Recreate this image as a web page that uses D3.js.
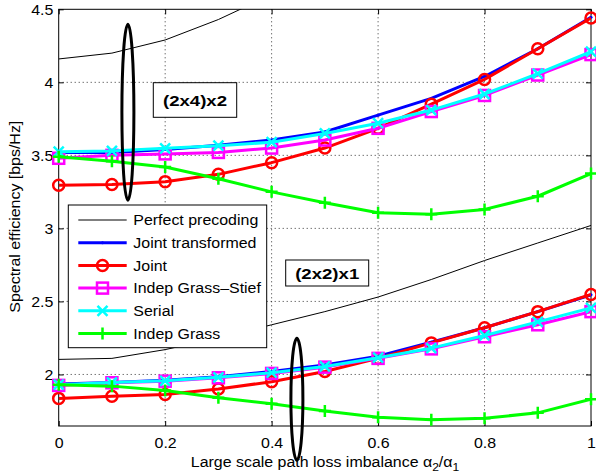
<!DOCTYPE html>
<html><head><meta charset="utf-8">
<script src="https://cdn.jsdelivr.net/npm/d3@7"></script>
<style>body{margin:0;background:#fff}svg{display:block}text{font-family:"Liberation Sans",Arial,Helvetica,sans-serif}</style>
</head><body><svg id="c" width="596" height="476"></svg>
<script>
const xs = [0,0.1,0.2,0.3,0.4,0.5,0.6,0.7,0.8,0.9,1];
const xTicks = [0,0.2,0.4,0.6,0.8,1];
const yTicks = [2,2.5,3,3.5,4,4.5];
// (2x4)x2
const perfA   = [4.16,4.20,4.29,4.43,4.60,4.80,5.02,5.26,5.52,5.80,6.10];
const jtA     = [3.52,3.52,3.54,3.57,3.605,3.66,3.775,3.89,4.04,4.23,4.445];
const jointA  = [3.295,3.30,3.32,3.37,3.45,3.55,3.685,3.85,4.02,4.23,4.44];
const igsA    = [3.48,3.50,3.51,3.52,3.55,3.605,3.685,3.80,3.91,4.05,4.19];
const serialA = [3.525,3.53,3.548,3.566,3.59,3.65,3.72,3.81,3.92,4.06,4.21];
const igA     = [3.49,3.46,3.42,3.34,3.25,3.175,3.107,3.096,3.13,3.22,3.375];
// (2x2)x1
const perfB   = [2.103,2.11,2.17,2.25,2.34,2.43,2.53,2.65,2.78,2.90,3.02];
const jtB     = [1.935,1.945,1.96,1.985,2.02,2.065,2.125,2.22,2.32,2.43,2.545];
const jointB  = [1.836,1.85,1.863,1.90,1.95,2.02,2.11,2.216,2.32,2.43,2.548];
const igsB    = [1.925,1.943,1.954,1.977,2.007,2.05,2.11,2.175,2.258,2.34,2.43];
const serialB = [1.93,1.945,1.956,1.98,2.012,2.055,2.115,2.18,2.267,2.36,2.456];
const igB     = [1.93,1.92,1.89,1.84,1.80,1.75,1.707,1.69,1.70,1.737,1.83];
const names = ["Perfect precoding","Joint transformed","Joint","Indep Grass\u2013Stief","Serial","Indep Grass"];

const FS = 14.5, SX = 1.1;
const svg = d3.select("#c");
const L=58.7, R=591, T=9.3, B=426;
const x = d3.scaleLinear().domain([0,1]).range([L,R]);
const y = d3.scaleLinear().domain([1.647,4.5]).range([B,T]);

function stext(parent, px, py, str, opt={}){
  const g = parent.append("g").attr("transform",`translate(${px},${py}) scale(${opt.sx||SX},1)`);
  return g.append("text").attr("x",0).attr("y",0).attr("font-size",opt.size||FS)
    .attr("font-weight",opt.weight||"normal").attr("text-anchor",opt.anchor||"start").attr("fill","#000").text(str);
}

svg.append("defs").append("clipPath").attr("id","clip").append("rect")
  .attr("x",L).attr("y",T).attr("width",R-L).attr("height",B-T);

// grid
const g = svg.append("g");
xTicks.forEach(t=>{ if(t>0 && t<1) g.append("line").attr("x1",x(t)).attr("x2",x(t)).attr("y1",T).attr("y2",B)
  .attr("stroke","#000").attr("stroke-width",0.8).attr("stroke-dasharray","1,3");});
yTicks.forEach(t=>{ if(t<4.5) g.append("line").attr("y1",y(t)).attr("y2",y(t)).attr("x1",L).attr("x2",R)
  .attr("stroke","#000").attr("stroke-width",0.8).attr("stroke-dasharray","1,3");});

// axes
const fmt = d=>d3.format("")(d);
const ax = svg.append("g").attr("transform",`translate(0,${B})`)
  .call(d3.axisBottom(x).tickValues(xTicks).tickSize(-5).tickFormat(fmt));
const axT = svg.append("g").attr("transform",`translate(0,${T})`)
  .call(d3.axisTop(x).tickValues(xTicks).tickSize(-5).tickFormat(""));
const ay = svg.append("g").attr("transform",`translate(${L},0)`)
  .call(d3.axisLeft(y).tickValues(yTicks).tickSize(-5).tickFormat(fmt));
const ayR = svg.append("g").attr("transform",`translate(${R},0)`)
  .call(d3.axisRight(y).tickValues(yTicks).tickSize(-5).tickFormat(""));
[ax,axT,ay,ayR].forEach(a=>{a.select(".domain").remove();a.selectAll("line").attr("stroke","#000");
  a.selectAll("text").attr("font-size",FS).attr("fill","#000").style("font-family","Liberation Sans, Arial, sans-serif");});
ax.selectAll("text").attr("y",22.3).attr("dy",0).attr("transform",`scale(${SX},1)`);
ay.selectAll("text").attr("x",-5.4/SX).attr("dy",0).attr("y",5.2).attr("transform",`scale(${SX},1)`);
svg.append("rect").attr("x",L).attr("y",T).attr("width",R-L).attr("height",B-T)
  .attr("fill","none").attr("stroke","#000").attr("stroke-width",1);

// series
const line = d3.line().x((d,i)=>x(xs[i])).y(d=>y(d));
const styles = [
  {c:"#000",w:1,m:"none"},
  {c:"#0000ff",w:3,m:"dot"},
  {c:"#ff0000",w:3,m:"circle"},
  {c:"#ff00ff",w:3,m:"square"},
  {c:"#00ffff",w:3,m:"x"},
  {c:"#00ff00",w:3,m:"plus"}
];
function marker(sel, m, c, cx, cy){
  if(m==="dot") sel.append("circle").attr("cx",cx).attr("cy",cy).attr("r",1.5).attr("fill",c);
  else if(m==="circle") sel.append("circle").attr("cx",cx).attr("cy",cy).attr("r",5.5).attr("fill","none").attr("stroke",c).attr("stroke-width",2.5);
  else if(m==="square") sel.append("rect").attr("x",cx-5.5).attr("y",cy-5.5).attr("width",11).attr("height",11).attr("fill","none").attr("stroke",c).attr("stroke-width",2.5);
  else if(m==="x") sel.append("path").attr("d",`M${cx-5},${cy-5}L${cx+5},${cy+5}M${cx-5},${cy+5}L${cx+5},${cy-5}`).attr("stroke",c).attr("stroke-width",2.5);
  else if(m==="plus") sel.append("path").attr("d",`M${cx-6},${cy}L${cx+6},${cy}M${cx},${cy-6}L${cx},${cy+6}`).attr("stroke",c).attr("stroke-width",2.5);
}
const groups = [[perfA,jtA,jointA,igsA,serialA,igA],[perfB,jtB,jointB,igsB,serialB,igB]];
const sg = svg.append("g");
groups.forEach(grp=>{
  grp.forEach((data,k)=>{
    const s = styles[k];
    sg.append("path").attr("d",line(data)).attr("fill","none").attr("stroke",s.c)
      .attr("stroke-width",s.w).attr("clip-path","url(#clip)").attr("stroke-linejoin","round");
    if(s.m!=="none") data.forEach((d,i)=>marker(sg,s.m,s.c,x(xs[i]),y(d)));
  });
});

// ellipses
svg.append("ellipse").attr("cx",x(0.13)).attr("cy",y(3.795)).attr("rx",6).attr("ry",88)
  .attr("fill","none").attr("stroke","#000").attr("stroke-width",3);
svg.append("ellipse").attr("cx",x(0.4475)).attr("cy",y(1.83)).attr("rx",6).attr("ry",61)
  .attr("fill","none").attr("stroke","#000").attr("stroke-width",3);

// text boxes
function tbox(x0,y0,w,h,txt){
  svg.append("rect").attr("x",x0).attr("y",y0).attr("width",w).attr("height",h).attr("fill","#fff").attr("stroke","#000").attr("stroke-width",1);
  stext(svg, x0+w/2, y0+h/2+5.5, txt, {size:15.5, weight:"bold", anchor:"middle", sx:1.2});
}
tbox(153.3,82.7,83.4,34.6,"(2x4)x2");
tbox(285.7,260,83,26,"(2x2)x1");

// legend
const lg = svg.append("g");
lg.append("rect").attr("x",68.3).attr("y",205).attr("width",198.4).attr("height",142.7).attr("fill","#fff").attr("stroke","#000").attr("stroke-width",1);
names.forEach((n,k)=>{
  const yy = 220 + k*22.7;
  const s = styles[k];
  lg.append("line").attr("x1",78.3).attr("x2",126.7).attr("y1",yy).attr("y2",yy).attr("stroke",s.c).attr("stroke-width",s.w);
  if(s.m!=="none") marker(lg,s.m,s.c,102.5,yy);
  stext(lg, 133.3, yy+5.2, n);
});

// axis labels
const xl = stext(svg, 325, 466.7, "", {anchor:"middle"});
xl.append("tspan").text("Large scale path loss imbalance \u03b1");
xl.append("tspan").attr("font-size",11).attr("dy",4).text("2");
xl.append("tspan").attr("dy",-4).text("/\u03b1");
xl.append("tspan").attr("font-size",11).attr("dy",4).text("1");
svg.append("g").attr("transform","translate(19.5,216.7) rotate(-90) scale(1.1,1)")
  .append("text").attr("text-anchor","middle").attr("font-size",FS).text("Spectral efficiency [bps/Hz]");
</script></body></html>
